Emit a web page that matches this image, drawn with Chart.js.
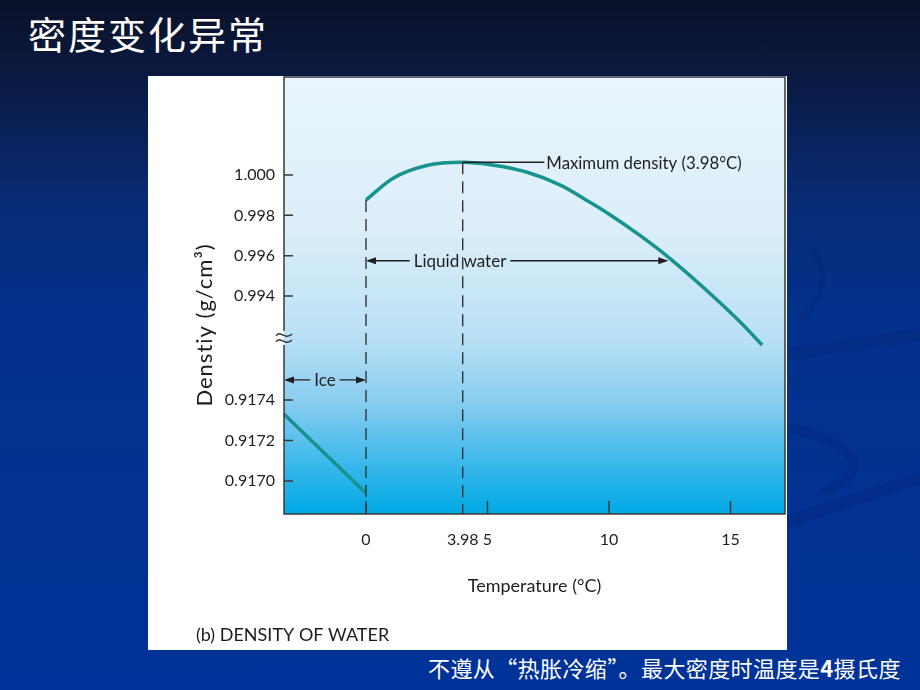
<!DOCTYPE html>
<html><head><meta charset="utf-8">
<script src="https://cdn.jsdelivr.net/npm/chart.js@4"></script>
<style>
html,body{margin:0;padding:0;}
body{width:920px;height:690px;position:relative;overflow:hidden;
  background:linear-gradient(to bottom,#0a1128 0%,#0b1a42 11%,#082a72 28%,#04318c 45%,#003399 100%);
  font-family:'Noto Sans CJK SC',sans-serif;}
#deco{position:absolute;left:0;top:0;}
#title{position:absolute;left:28px;top:10px;color:#fff;font-size:38px;line-height:1.2;letter-spacing:2px;white-space:nowrap;}
#panel{position:absolute;left:148px;top:76px;width:639px;height:574px;background:#fff;}
#panel canvas{display:block;}
#caption{position:absolute;left:428px;top:653px;color:#fff;font-size:22px;line-height:1.3;letter-spacing:0.4px;white-space:nowrap;}
</style></head>
<body>
<svg id="deco" width="920" height="690">
  <g fill="none" stroke="#06256f" stroke-opacity="0.3">
    <path d="M808 245 C828 262 828 300 800 318" stroke-width="6"/>
    <path d="M787 355 L920 334" stroke-width="12"/>
    <path d="M787 428 C850 440 880 470 823 492" stroke-width="9"/>
    <path d="M787 522 L920 478" stroke-width="12"/>
  </g>
</svg>
<div id="title">密度变化异常</div>
<div id="panel"><canvas id="c" width="639" height="574"></canvas></div>
<div id="caption">不遵从“热胀冷缩”。最大密度时温度是<b>4</b>摄氏度</div>
<script>
// ---- data ----
const tempLiquid = [0, 1.1, 2.5, 3.98, 5.2, 6.6, 8.0, 9.2, 9.9, 11.3, 12.5, 14.0, 15.4, 16.3];
const densLiquid = [0.99876, 0.99983, 1.00047, 1.00063, 1.00050, 1.00015, 0.99950, 0.99866, 0.99814, 0.99698, 0.99587, 0.99430, 0.99271, 0.99157];
const tempIce = [-3.37, 0];
const densIce = [0.91733, 0.91694];
const xTicks = [0, 3.98, 5, 10, 15];
const xTickLabels = ['0', '3.98', '5', '10', '15'];
const yTicksUpper = [0.994, 0.996, 0.998, 1.000];
const yTickLabelsUpper = ['0.994', '0.996', '0.998', '1.000'];
const yTicksLower = [0.9170, 0.9172, 0.9174];
const yTickLabelsLower = ['0.9170', '0.9172', '0.9174'];
const maxDensityTemp = 3.98;
const maxDensity = 1.00063;

const FONT = "Lato,'Liberation Sans',sans-serif";
const INK = '#1f1f1f';
const TEAL = '#17928f';

function arrowHead(ctx, x, y, dir) {
  ctx.beginPath();
  ctx.moveTo(x, y);
  ctx.lineTo(x - dir * 10, y - 3.5);
  ctx.lineTo(x - dir * 10, y + 3.5);
  ctx.closePath();
  ctx.fill();
}
function labelledArrow(ctx, x0, x1, y, xc, text) {
  ctx.font = `17px ${FONT}`;
  const w = ctx.measureText(text).width;
  ctx.strokeStyle = INK; ctx.fillStyle = INK; ctx.lineWidth = 1.4;
  ctx.beginPath();
  ctx.moveTo(x0 + 2, y); ctx.lineTo(xc - w / 2 - 4, y);
  ctx.moveTo(xc + w / 2 + 4, y); ctx.lineTo(x1 - 2, y);
  ctx.stroke();
  arrowHead(ctx, x0, y, -1);
  arrowHead(ctx, x1, y, 1);
  ctx.textAlign = 'center'; ctx.textBaseline = 'middle';
  ctx.fillText(text, xc, y + 1);
}

const decor = {
  id: 'decor',
  beforeDraw(chart) {
    const {ctx, chartArea: a} = chart;
    const g = ctx.createLinearGradient(0, a.top, 0, a.bottom);
    g.addColorStop(0, '#e9f5fc');
    g.addColorStop(0.35, '#dbeef9');
    g.addColorStop(0.6, '#b9e0f5');
    g.addColorStop(0.75, '#86ccef');
    g.addColorStop(0.88, '#3db9eb');
    g.addColorStop(1, '#00a8e4');
    ctx.save();
    ctx.fillStyle = g;
    ctx.fillRect(a.left, a.top, a.right - a.left, a.bottom - a.top);
    ctx.restore();
  },
  afterDatasetsDraw(chart) {
    const {ctx, chartArea: a, scales} = chart;
    const xs = scales.x, yu = scales.yUpper, yl = scales.yLower;
    ctx.save();
    // dashed guides
    ctx.strokeStyle = '#333'; ctx.lineWidth = 1.4; ctx.setLineDash([12, 7]);
    ctx.beginPath();
    ctx.moveTo(xs.getPixelForValue(0), yu.getPixelForValue(densLiquid[0]));
    ctx.lineTo(xs.getPixelForValue(0), a.bottom);
    ctx.moveTo(xs.getPixelForValue(maxDensityTemp), yu.getPixelForValue(maxDensity));
    ctx.lineTo(xs.getPixelForValue(maxDensityTemp), a.bottom);
    ctx.stroke();
    ctx.setLineDash([]);
    // maximum density leader
    const ym = yu.getPixelForValue(maxDensity);
    const xText = xs.getPixelForValue(7.42);
    ctx.strokeStyle = '#222'; ctx.lineWidth = 1.6;
    ctx.beginPath(); ctx.moveTo(xs.getPixelForValue(maxDensityTemp), ym); ctx.lineTo(xText - 2, ym); ctx.stroke();
    ctx.fillStyle = INK; ctx.font = `16.8px ${FONT}`;
    ctx.textAlign = 'left'; ctx.textBaseline = 'middle';
    ctx.fillText('Maximum density (3.98°C)', xText, ym + 1);
    // liquid water arrow
    labelledArrow(ctx, xs.getPixelForValue(0), xs.getPixelForValue(12.44), yu.getPixelForValue(0.99575), xs.getPixelForValue(3.87), 'Liquid water');
    // ice arrow
    labelledArrow(ctx, a.left, xs.getPixelForValue(0), yl.getPixelForValue(0.917499), xs.getPixelForValue(-1.69), 'Ice');
    // frame
    const by = yu.bottom;
    ctx.strokeStyle = '#3a3a3a'; ctx.lineWidth = 1.5;
    ctx.beginPath();
    ctx.moveTo(a.left, by - 7); ctx.lineTo(a.left, a.top); ctx.lineTo(a.right, a.top);
    ctx.lineTo(a.right, a.bottom); ctx.lineTo(a.left, a.bottom); ctx.lineTo(a.left, by + 7);
    ctx.stroke();
    // inward ticks
    ctx.beginPath();
    [yu, yl].forEach(s => s.ticks.forEach(t => {
      const p = s.getPixelForValue(t.value);
      ctx.moveTo(a.left, p); ctx.lineTo(a.left + 9, p);
    }));
    xs.ticks.forEach(t => {
      if (t.value === maxDensityTemp) return;
      const p = xs.getPixelForValue(t.value);
      ctx.moveTo(p, a.bottom); ctx.lineTo(p, a.bottom - 13);
    });
    ctx.stroke();
    // axis break symbol
    ctx.lineWidth = 1.4; ctx.strokeStyle = '#333';
    ctx.beginPath();
    [-3, 3].forEach(k => {
      const x = a.left, y = by + k;
      ctx.moveTo(x - 8, y + 1);
      ctx.bezierCurveTo(x - 4, y - 6, x + 1, y + 6, x + 8, y - 1);
    });
    ctx.stroke();
    // y axis title
    ctx.save();
    ctx.translate(57, 249);
    ctx.rotate(-Math.PI / 2);
    ctx.font = `22px ${FONT}`;
    if ('letterSpacing' in ctx) ctx.letterSpacing = '1px';
    ctx.fillStyle = '#1c1c1c'; ctx.textAlign = 'center'; ctx.textBaseline = 'middle';
    ctx.fillText('Denstiy (g/cm³)', 0, 0);
    ctx.restore();
    // panel caption
    ctx.fillStyle = '#1c1c1c'; ctx.font = `18px ${FONT}`;
    ctx.textAlign = 'left'; ctx.textBaseline = 'middle';
    ctx.fillText('(b) DENSITY OF WATER', 48, 559);
    ctx.restore();
  }
};

const tickFont = {family: FONT, size: 16};
function noPad(s) { s.paddingTop = 0; s.paddingBottom = 0; s.paddingLeft = 0; s.paddingRight = 0; }
new Chart(document.getElementById('c'), {
  type: 'line',
  data: {
    datasets: [
      {label: 'Liquid water', data: tempLiquid.map((t, i) => ({x: t, y: densLiquid[i]})),
       yAxisID: 'yUpper', borderColor: TEAL, borderWidth: 3.5, pointRadius: 0,
       cubicInterpolationMode: 'monotone', fill: false, clip: false, borderCapStyle: 'butt'},
      {label: 'Ice', data: tempIce.map((t, i) => ({x: t, y: densIce[i]})),
       yAxisID: 'yLower', borderColor: TEAL, borderWidth: 3.5, pointRadius: 0, fill: false, clip: false}
    ]
  },
  options: {
    responsive: false, animation: false, devicePixelRatio: 1,
    layout: {padding: {top: 1, right: 2, left: 0, bottom: 0}},
    plugins: {legend: {display: false}, tooltip: {enabled: false}, title: {display: false}},
    scales: {
      x: {
        type: 'linear', position: 'bottom', min: -3.374, max: 17.243,
        afterBuildTicks: s => { s.ticks = xTicks.map(v => ({value: v})); },
        afterFit: s => { s.height = 136; noPad(s); },
        grid: {display: false, drawTicks: false}, border: {display: false},
        ticks: {autoSkip: false, maxRotation: 0, padding: 16, color: INK, font: tickFont,
                callback: v => xTickLabels[xTicks.indexOf(v)]},
        title: {display: true, text: 'Temperature (°C)', color: INK,
                font: {family: FONT, size: 18}, padding: {top: 0, bottom: 53}}
      },
      yUpper: {
        type: 'linear', position: 'left', stack: 'density', stackWeight: 261, weight: 1,
        min: 0.991919, max: 1.004859,
        afterBuildTicks: s => { s.ticks = yTicksUpper.map(v => ({value: v})); },
        afterFit: s => { s.width = 136; noPad(s); },
        grid: {display: false, drawTicks: false}, border: {display: false},
        ticks: {padding: 9, color: INK, font: tickFont,
                callback: v => yTickLabelsUpper[yTicksUpper.findIndex(t => Math.abs(t - v) < 1e-7)]}
      },
      yLower: {
        type: 'linear', position: 'left', stack: 'density', stackWeight: 176, weight: 0,
        min: 0.916837, max: 0.917706,
        afterBuildTicks: s => { s.ticks = yTicksLower.map(v => ({value: v})); },
        afterFit: s => { s.width = 136; noPad(s); },
        grid: {display: false, drawTicks: false}, border: {display: false},
        ticks: {padding: 9, color: INK, font: tickFont,
                callback: v => yTickLabelsLower[yTicksLower.findIndex(t => Math.abs(t - v) < 1e-8)]}
      }
    }
  },
  plugins: [decor]
});
</script>
</body></html>
